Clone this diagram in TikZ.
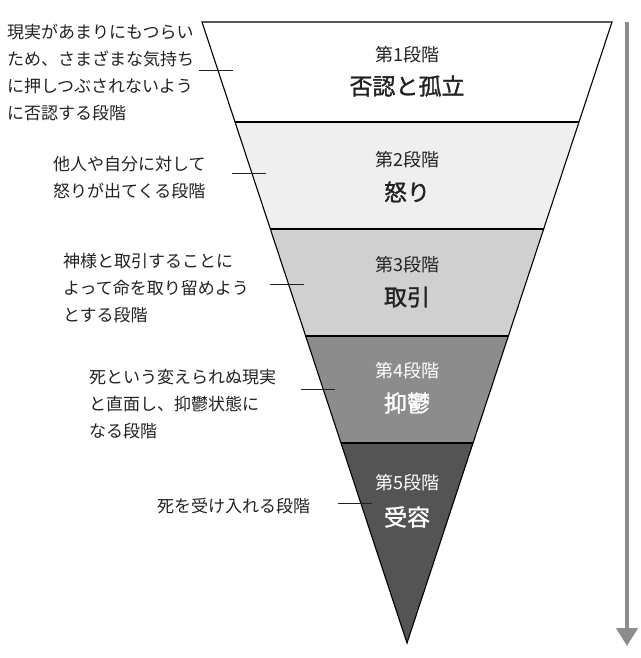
\documentclass[tikz,border=0pt]{standalone}
\usepackage{fontspec}
\newfontfamily\cjk{Noto Sans CJK JP}
\newfontfamily\cjkname[FakeBold=1.3]{Noto Sans CJK JP}
\usetikzlibrary{arrows.meta}
\definecolor{bandA}{HTML}{FFFFFF}
\definecolor{bandB}{HTML}{EFEFEF}
\definecolor{bandC}{HTML}{D0D0D0}
\definecolor{bandD}{HTML}{8C8C8C}
\definecolor{bandE}{HTML}{545454}
\definecolor{inkdark}{HTML}{222222}
\definecolor{arrowgray}{HTML}{8C8C8C}
\tikzset{
  desc/.style={anchor=west,align=left,inner sep=0pt,text=inkdark,
    font=\cjk\fontsize{17}{27}\selectfont},
  stagehead/.style={inner sep=0pt,font=\cjk\fontsize{18}{20}\selectfont},
  stagename/.style={inner sep=0pt,font=\cjkname\fontsize{23}{24}\selectfont},
  leader/.style={draw=inkdark,line width=0.8pt},
  edge/.style={draw=black,line width=1.1pt},
}
\begin{document}
\begin{tikzpicture}[x=1pt,y=-1pt]
\useasboundingbox (0,0) rectangle (640,658);
\coordinate (TL) at (202,22);
\coordinate (TR) at (612,22);
\coordinate (AP) at (407,643);
\begin{scope}
  \clip (TL) -- (TR) -- (AP) -- cycle;
  \fill[bandA] (0,22) rectangle (640,122);
  \fill[bandB] (0,122) rectangle (640,229);
  \fill[bandC] (0,229) rectangle (640,336);
  \fill[bandD] (0,336) rectangle (640,443);
  \fill[bandE] (0,443) rectangle (640,650);
  \draw[edge] (0,122) -- (640,122);
  \draw[edge] (0,229) -- (640,229);
  \draw[edge] (0,336) -- (640,336);
  \draw[edge] (0,443) -- (640,443);
\end{scope}
\draw[edge,line join=miter] (TL) -- (TR) -- (AP) -- cycle;

% stage texts
\node[stagehead,text=inkdark] (h1) at (407,55) {第1段階};
\node[stagename,text=inkdark] (n1) at (407,86) {否認と孤立};
\node[stagehead,text=inkdark] (h2) at (407,160) {第2段階};
\node[stagename,text=inkdark] (n2) at (407,192) {怒り};
\node[stagehead,text=inkdark] (h3) at (407,265) {第3段階};
\node[stagename,text=inkdark] (n3) at (407,297) {取引};
\node[stagehead,text=white] (h4) at (407,371) {第4段階};
\node[stagename,text=white] (n4) at (407,403) {抑鬱};
\node[stagehead,text=white] (h5) at (407,483) {第5段階};
\node[stagename,text=white] (n5) at (407,517) {受容};

% descriptions
\node[desc] (d1) at (7,72.5) {現実があまりにもつらい\\ため、さまざまな気持ち\\に押しつぶされないよう\\に否認する段階};
\node[desc] (d2) at (53,177.5) {他人や自分に対して\\怒りが出てくる段階};
\node[desc] (d3) at (63,288.5) {神様と取引することに\\よって命を取り留めよう\\とする段階};
\node[desc] (d4) at (89,404.5) {死という変えられぬ現実\\と直面し、抑鬱状態に\\なる段階};
\node[desc] (d5) at (157,506) {死を受け入れる段階};

% leader lines
\coordinate (c1a) at (199,70);  \coordinate (c1b) at (233,70);
\coordinate (c2a) at (232,173); \coordinate (c2b) at (266,173);
\coordinate (c3a) at (270,284); \coordinate (c3b) at (304,284);
\coordinate (c4a) at (301,389); \coordinate (c4b) at (335,389);
\coordinate (c5a) at (338,503); \coordinate (c5b) at (372,503);
\draw[leader] (c1a) -- (c1b);
\draw[leader] (c2a) -- (c2b);
\draw[leader] (c3a) -- (c3b);
\draw[leader] (c4a) -- (c4b);
\draw[leader] (c5a) -- (c5b);

% progress arrow
\coordinate (ar1) at (627,22);
\coordinate (ar2) at (627,646);
\draw[arrowgray,line width=4pt,-{Triangle[width=21pt,length=18pt]}] (ar1) -- (ar2);
\end{tikzpicture}
\end{document}
